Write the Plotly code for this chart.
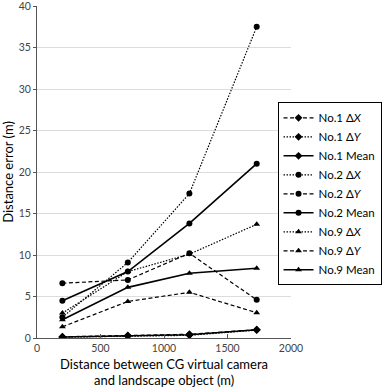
import plotly.graph_objects as go

distance = [200, 715, 1200, 1730]

no1_dx = [0.15, 0.30, 0.45, 1.00]
no1_dy = [0.10, 0.22, 0.32, 0.95]
no1_mean = [0.12, 0.26, 0.40, 1.00]

no2_dx = [2.5, 9.1, 17.4, 37.5]
no2_dy = [6.6, 7.0, 10.2, 4.6]
no2_mean = [4.5, 8.0, 13.8, 21.0]

no9_dx = [3.0, 8.0, 10.1, 13.7]
no9_dy = [1.35, 4.4, 5.5, 3.05]
no9_mean = [2.2, 6.1, 7.8, 8.4]

x_ticks = [0, 500, 1000, 1500, 2000]
y_ticks = [0, 5, 10, 15, 20, 25, 30, 35, 40]

DASH = "4px,2.5px"
DOT = "1.5px,1.5px"

series = [
    ("No.1 Δ<i>X</i>", no1_dx, DASH, "diamond", 1.2),
    ("No.1 Δ<i>Y</i>", no1_dy, DOT, "diamond", 1.2),
    ("No.1 Mean", no1_mean, "solid", "diamond", 1.6),
    ("No.2 Δ<i>X</i>", no2_dx, DOT, "circle", 1.2),
    ("No.2 Δ<i>Y</i>", no2_dy, DASH, "circle", 1.2),
    ("No.2 Mean", no2_mean, "solid", "circle", 1.6),
    ("No.9 Δ<i>X</i>", no9_dx, DOT, "triangle-up", 1.2),
    ("No.9 Δ<i>Y</i>", no9_dy, DASH, "triangle-up", 1.2),
    ("No.9 Mean", no9_mean, "solid", "triangle-up", 1.6),
]

fig = go.Figure()
for name, vals, dash, sym, w in series:
    fig.add_trace(go.Scatter(
        x=distance, y=vals, name=name, mode="lines+markers",
        line=dict(color="black", dash=dash, width=w),
        marker=dict(symbol=sym, size=6, color="black"),
    ))

title_font = dict(family="Lato, sans-serif", size=13, color="black")

fig.update_layout(
    width=388, height=390,
    margin=dict(l=37, r=87, t=6, b=52),
    paper_bgcolor="white", plot_bgcolor="white",
    font=dict(family="Lato, sans-serif", color="black"),
    showlegend=True,
    legend=dict(
        x=0.947, xanchor="left", y=0.71, yanchor="top",
        bordercolor="black", borderwidth=1, bgcolor="white",
        font=dict(family="Lato, sans-serif", size=11.5, color="black"),
        itemwidth=30, tracegroupgap=0,
    ),
    xaxis=dict(
        range=[0, 2000], tickvals=x_ticks,
        showgrid=False, showline=True, linecolor="#555", linewidth=1,
        ticks="inside", ticklen=4, tickcolor="#555",
        tickfont=dict(size=10.5, color="#444"),
        automargin=False, zeroline=False,
    ),
    yaxis=dict(
        range=[0, 40], tickvals=y_ticks,
        showgrid=True, gridcolor="#dcdcdc", gridwidth=1,
        showline=True, linecolor="#555", linewidth=1,
        ticks="outside", ticklen=3, tickcolor="#555",
        tickfont=dict(size=10.5, color="#444"),
        ticklabeloverflow="allow",
        automargin=False, zeroline=False,
    ),
    annotations=[
        dict(text="Distance between CG virtual camera", xref="paper", yref="paper",
             x=0.5, y=-0.0798, xanchor="center", yanchor="middle",
             showarrow=False, font=title_font),
        dict(text="and landscape object (m)", xref="paper", yref="paper",
             x=0.5, y=-0.125, xanchor="center", yanchor="middle",
             showarrow=False, font=title_font),
        dict(text="Distance error (m)", xref="paper", yref="paper",
             x=-0.115, y=0.5, xanchor="center", yanchor="middle", textangle=-90,
             showarrow=False, font=title_font),
    ],
)

fig.write_html("out.html", config={"displayModeBar": False},
               post_script="document.body.style.margin='0';document.body.style.overflow='hidden';")
